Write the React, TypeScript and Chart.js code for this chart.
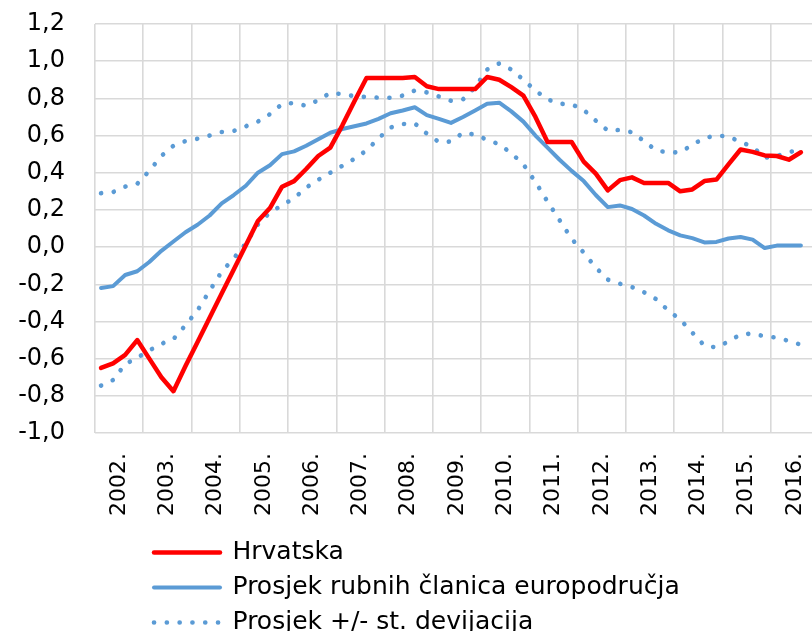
import React, { useEffect, useRef } from 'react';
import { Chart, registerables } from 'chart.js';

Chart.register(...registerables);

// Years shown on the category axis
const years = [2002, 2003, 2004, 2005, 2006, 2007, 2008, 2009, 2010, 2011, 2012, 2013, 2014, 2015, 2016];
// Quarterly observations 2002Q1 .. 2016Q3
const quarters: string[] = [];
years.forEach((y) => [1, 2, 3, 4].forEach((q) => quarters.push(`${y}Q${q}`)));
quarters.length = 59;

const seriesLabels = [
  'Hrvatska',
  'Prosjek rubnih članica europodručja',
  'Prosjek +/- st. devijacija',
];

const hrvatska = [
  -0.65, -0.625, -0.58, -0.5, -0.6, -0.7, -0.775, -0.64, -0.51, -0.38,
  -0.25, -0.12, 0.01, 0.14, 0.21, 0.325, 0.355, 0.42, 0.49, 0.535,
  0.655, 0.785, 0.91, 0.91, 0.91, 0.91, 0.915, 0.865, 0.85, 0.85,
  0.85, 0.85, 0.915, 0.9, 0.86, 0.815, 0.7, 0.565, 0.565, 0.565,
  0.46, 0.395, 0.305, 0.36, 0.375, 0.345, 0.345, 0.345, 0.3, 0.31,
  0.355, 0.363, 0.445, 0.525, 0.512, 0.493, 0.49, 0.47, 0.51,
];

const prosjek = [
  -0.22, -0.21, -0.15, -0.13, -0.08, -0.02, 0.03, 0.08, 0.12, 0.17,
  0.235, 0.28, 0.33, 0.4, 0.44, 0.5, 0.515, 0.545, 0.58, 0.615,
  0.635, 0.65, 0.665, 0.69, 0.72, 0.735, 0.752, 0.71, 0.69, 0.668,
  0.7, 0.735, 0.771, 0.777, 0.73, 0.675, 0.6, 0.535, 0.47, 0.41,
  0.355, 0.28, 0.215, 0.224, 0.205, 0.17, 0.125, 0.09, 0.063, 0.048,
  0.025, 0.028, 0.046, 0.054, 0.04, -0.005, 0.008, 0.008, 0.008,
];

const prosjekPlusSd = [
  0.29, 0.296, 0.325, 0.34, 0.41, 0.49, 0.545, 0.57, 0.583, 0.6,
  0.619, 0.625, 0.65, 0.675, 0.715, 0.77, 0.775, 0.76, 0.79, 0.83,
  0.822, 0.812, 0.807, 0.804, 0.803, 0.815, 0.842, 0.832, 0.81, 0.787,
  0.795, 0.86, 0.955, 0.988, 0.955, 0.9, 0.842, 0.795, 0.771, 0.768,
  0.738, 0.68, 0.627, 0.63, 0.618, 0.57, 0.52, 0.509, 0.51, 0.55,
  0.587, 0.6, 0.595, 0.565, 0.54, 0.48, 0.49, 0.51, 0.525,
];

const prosjekMinusSd = [
  -0.745, -0.715, -0.63, -0.595, -0.556, -0.52, -0.495, -0.42, -0.34, -0.235,
  -0.132, -0.06, 0.02, 0.122, 0.186, 0.225, 0.263, 0.32, 0.362, 0.4,
  0.437, 0.475, 0.52, 0.585, 0.643, 0.662, 0.665, 0.61, 0.565, 0.568,
  0.615, 0.605, 0.577, 0.553, 0.505, 0.445, 0.35, 0.245, 0.145, 0.045,
  -0.03, -0.11, -0.175, -0.197, -0.215, -0.243, -0.28, -0.34, -0.39, -0.46,
  -0.53, -0.54, -0.508, -0.47, -0.465, -0.48, -0.487, -0.505, -0.525,
];

const Y_MIN = -1.0;
const Y_MAX = 1.2;
const Y_STEP = 0.2;

const RED = '#ff0000';
const BLUE = '#5b9bd5';
const GRID = '#d9d9d9';
const FONT = 'DejaVu Sans';

const quarterX = (label: string) => {
  const [y, q] = label.split('Q').map(Number);
  return y + (q - 0.5) / 4;
};

const toPoints = (vals: number[]) => vals.map((v, i) => ({ x: quarterX(quarters[i]), y: v }));

const legendPlacer = {
  id: 'legendPlacer',
  beforeDraw(chart: any) {
    const l = chart.legend;
    if (!l) return;
    l.left = 144;
    l.right = 830;
    l.top = 530;
    l.bottom = 660;
    l.width = l.right - l.left;
    l.height = l.bottom - l.top;
  },
};

export default function App() {
  const ref = useRef<HTMLCanvasElement | null>(null);

  useEffect(() => {
    if (!ref.current) return;
    const dotted = {
      borderColor: BLUE,
      backgroundColor: BLUE,
      borderWidth: 4.6,
      borderDash: [0.1, 12.7],
      borderCapStyle: 'round' as const,
      borderJoinStyle: 'round' as const,
      pointRadius: 0,
      tension: 0,
    };
    const chart = new Chart(ref.current, {
      type: 'line',
      data: {
        datasets: [
          {
            label: seriesLabels[0],
            data: toPoints(hrvatska),
            borderColor: RED,
            backgroundColor: RED,
            borderWidth: 4.5,
            borderCapStyle: 'round',
            borderJoinStyle: 'round',
            pointRadius: 0,
            tension: 0,
          },
          {
            label: seriesLabels[1],
            data: toPoints(prosjek),
            borderColor: BLUE,
            backgroundColor: BLUE,
            borderWidth: 4,
            borderCapStyle: 'round',
            borderJoinStyle: 'round',
            pointRadius: 0,
            tension: 0,
          },
          { label: seriesLabels[2], data: toPoints(prosjekPlusSd), ...dotted },
          { label: seriesLabels[2], data: toPoints(prosjekMinusSd), ...dotted },
        ],
      },
      options: {
        animation: false,
        responsive: false,
        devicePixelRatio: 1,
        layout: { padding: { left: 0, top: 24, right: 11, bottom: 0 } },
        scales: {
          x: {
            type: 'linear',
            min: years[0],
            max: years[years.length - 1] + 1,
            afterFit: (s: any) => {
              s.height = 227;
              s.paddingLeft = 0;
              s.paddingRight = 0;
            },
            ticks: {
              stepSize: 0.5,
              autoSkip: false,
              maxRotation: 90,
              minRotation: 90,
              padding: 20,
              color: '#000',
              font: { family: FONT, size: 22 },
              callback: (v: any) => (Number.isInteger(v) ? '' : `${Math.floor(v)}.`),
            },
            grid: {
              color: (ctx: any) =>
                ctx.tick && Number.isInteger(ctx.tick.value) ? GRID : 'rgba(0,0,0,0)',
              lineWidth: 1.6,
              drawTicks: false,
            },
            border: { display: false },
          },
          y: {
            min: Y_MIN,
            max: Y_MAX,
            afterFit: (s: any) => {
              s.width = 95;
              s.paddingTop = 0;
              s.paddingBottom = 0;
            },
            ticks: {
              stepSize: Y_STEP,
              padding: 30,
              color: '#000',
              font: { family: FONT, size: 24 },
              callback: (v: any) => {
                const n = Math.abs(v) < 1e-9 ? 0 : Number(v);
                return n.toFixed(1).replace('.', ',');
              },
            },
            grid: { color: GRID, lineWidth: 1.5, drawTicks: false },
            border: { display: false },
          },
        },
        plugins: {
          tooltip: { enabled: false },
          legend: {
            position: 'chartArea',
            align: 'start',
            labels: {
              usePointStyle: true,
              pointStyle: 'line',
              pointStyleWidth: 66,
              padding: 10,
              color: '#000',
              font: { family: FONT, size: 25 },
              generateLabels: (c: any) => {
                const base = Chart.defaults.plugins.legend.labels.generateLabels(c);
                return base
                  .filter((it: any) => it.datasetIndex !== 3)
                  .map((it: any) => {
                    const ds: any = c.data.datasets[it.datasetIndex];
                    return {
                      ...it,
                      lineDash: ds.borderDash || [],
                      lineCap: ds.borderCapStyle || 'butt',
                      lineWidth: ds.borderWidth,
                      strokeStyle: ds.borderColor,
                      fillStyle: ds.borderColor,
                    };
                  });
              },
            },
          },
        },
      },
      plugins: [legendPlacer],
    });
    return () => chart.destroy();
  }, []);

  return (
    <div
      style={{
        position: 'fixed',
        left: 0,
        top: 0,
        width: 812,
        height: 631,
        overflow: 'hidden',
        background: '#fff',
      }}
    >
      <canvas ref={ref} width={830} height={660} style={{ display: 'block' }} />
    </div>
  );
}
